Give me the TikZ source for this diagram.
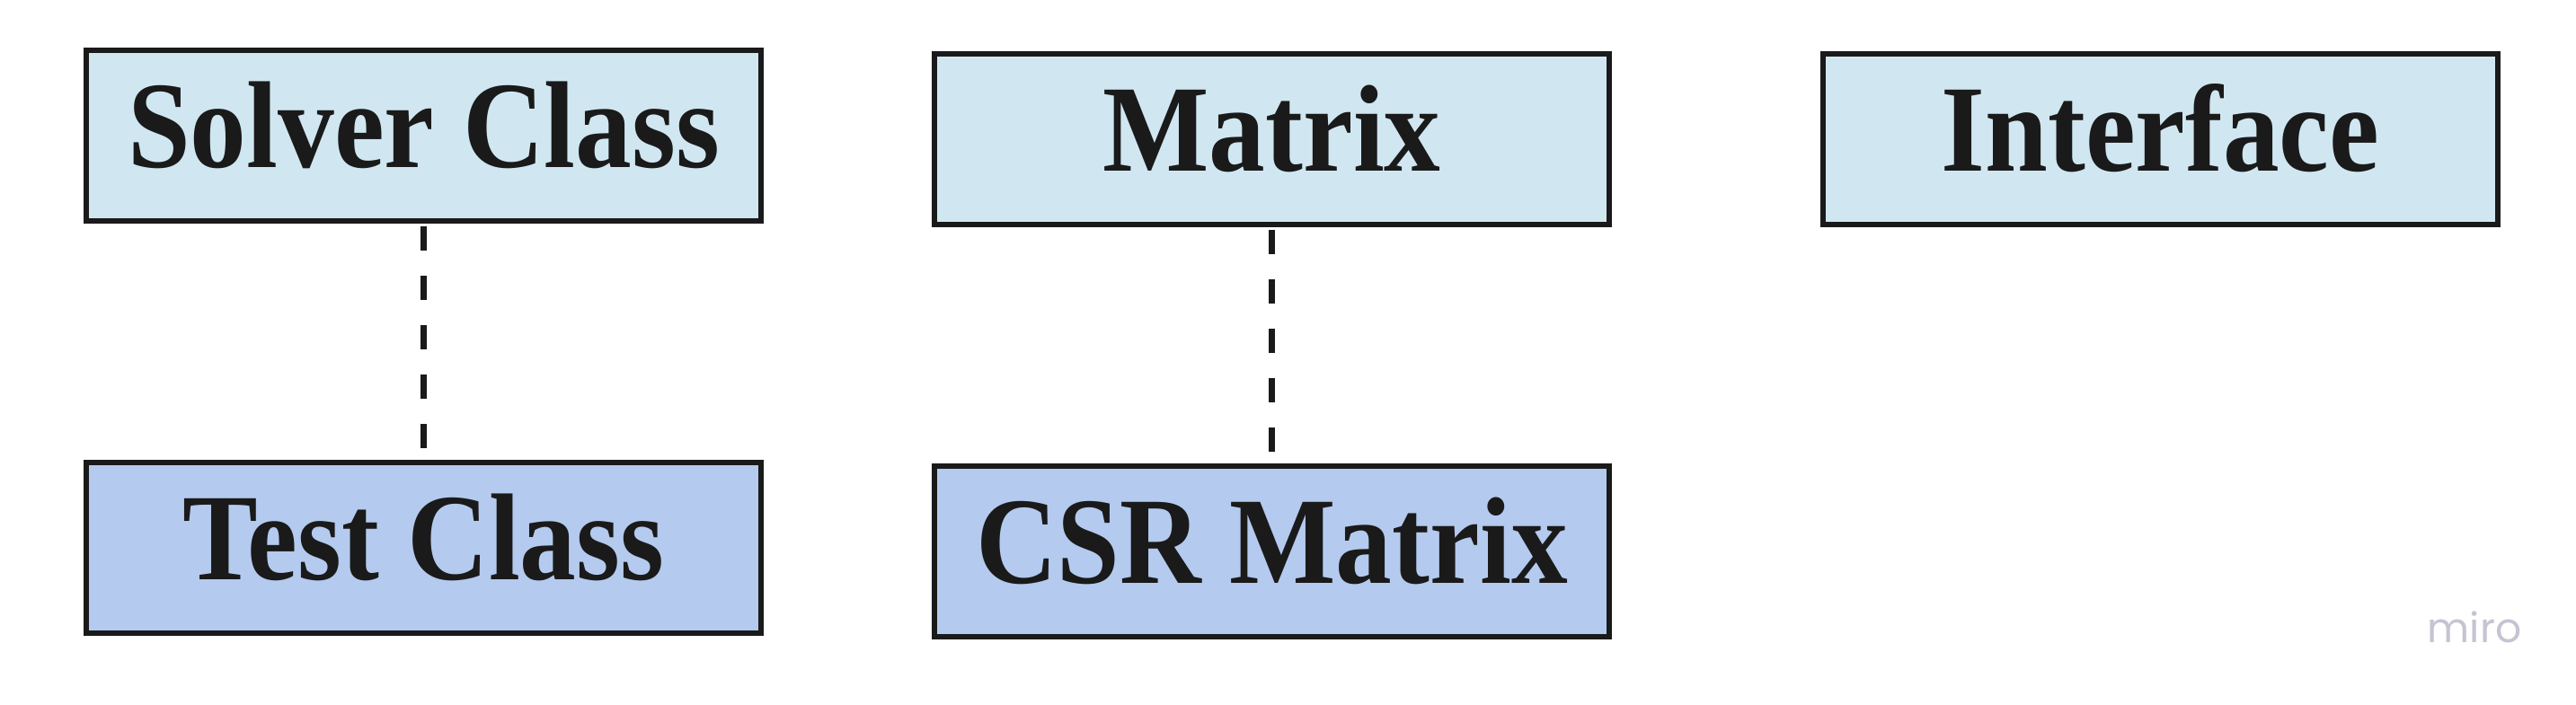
\documentclass[tikz,border=0pt]{standalone}
\usepackage{fontspec}
\usepackage{graphicx}
\setmainfont{Liberation Serif}
\newfontfamily\mirofont{Poppins}
\definecolor{topfill}{HTML}{D0E7F1}
\definecolor{lowfill}{HTML}{B4CAEE}
\definecolor{edgeblack}{HTML}{1A1A1A}
\definecolor{mirogray}{HTML}{C4C4D2}
\newcommand{\tall}[1]{\scalebox{1.02}[1.12]{#1}}
\tikzset{
	classbox/.style={draw=edgeblack, line width=0.06cm, minimum width=7.51cm, minimum height=1.90cm,
		inner sep=0pt, text height=0.93cm, text depth=0.22cm, text=edgeblack,
		font=\bfseries\fontsize{35}{40}\selectfont},
	upper/.style={classbox, fill=topfill},
	lower/.style={classbox, fill=lowfill},
	link/.style={draw=edgeblack, line width=0.07cm, dash pattern=on 0.27cm off 0.28cm, shorten <=0.03cm}
}
\begin{document}
\begin{tikzpicture}
	\useasboundingbox (0,0) rectangle (28.67,7.84);
	
	\node[upper] (solver) at (4.715,6.33) {\tall{Solver Class}};
	\node[upper] (matrix) at (14.155,6.295) {\tall{Matrix}};
	\node[upper] (interface) at (24.045,6.295) {\tall{Interface}};
	
	\node[lower] (test) at (4.715,1.74) {\tall{Test Class}};
	\node[lower] (csr) at (14.155,1.705) {\tall{CSR Matrix}};
	
	\draw[link] (solver) -- (test);
	\draw[link] (matrix) -- (csr);
	
	\node[text=mirogray, font=\mirofont\fontsize{13}{15}\selectfont] (watermark) at (27.54,0.86) {miro};
\end{tikzpicture}
\end{document}
